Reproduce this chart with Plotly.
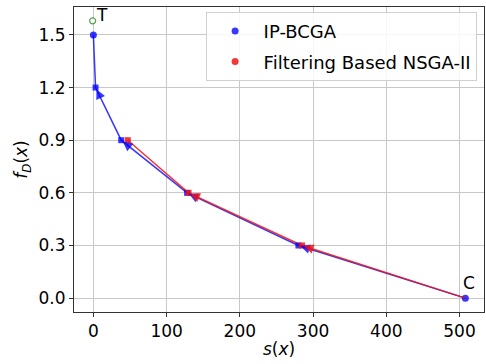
import plotly.graph_objects as go

# Data
blue_s = [0, 3, 38, 128, 280, 508]
blue_f = [1.5, 1.2, 0.9, 0.6, 0.3, 0.0]
red_s = [47, 130, 285, 508]
red_f = [0.9, 0.6, 0.3, 0.0]
T_point = (-1, 1.58)
C_point = (508, 0.0)

BLUE = "rgba(0,0,255,0.78)"
RED = "rgba(240,20,20,0.85)"
FONT = "DejaVu Sans"

fig = go.Figure()
fig.add_trace(go.Scatter(x=blue_s, y=blue_f, mode="lines", line=dict(color=BLUE, width=1.5),
                         showlegend=False, hoverinfo="skip"))
fig.add_trace(go.Scatter(x=[blue_s[0], blue_s[-1]], y=[blue_f[0], blue_f[-1]], mode="markers",
                         marker=dict(color=BLUE, size=7), name="IP-BCGA", legendgroup="a"))
fig.add_trace(go.Scatter(x=red_s, y=red_f, mode="lines", line=dict(color=RED, width=1.5),
                         showlegend=False, hoverinfo="skip"))
fig.add_trace(go.Scatter(x=[None], y=[None], mode="markers",
                         marker=dict(color=RED, size=7), name="Filtering Based NSGA-II", legendgroup="b"))
fig.add_trace(go.Scatter(x=[T_point[0]], y=[T_point[1]], mode="markers",
                         marker=dict(color="white", size=6, line=dict(color="#55a050", width=1.2)),
                         showlegend=False))

# plot geometry for arrow direction (pixels per unit)
W, H = 486, 364
ml, mr, mt, mb = 74, 2, 7, 52
xr = [-26.45, 533.45]
yr = [-0.079, 1.659]
px = (W - ml - mr) / (xr[1] - xr[0])
py = (H - mt - mb) / (yr[1] - yr[0])

annotations = []
def add_arrows(xs, ys, color):
    for i in range(1, len(xs) - 1):
        dx = (xs[i + 1] - xs[i]) * px
        dy = -(ys[i + 1] - ys[i]) * py
        L = (dx * dx + dy * dy) ** 0.5
        ux, uy = dx / L, dy / L
        annotations.append(dict(x=xs[i], y=ys[i], xref="x", yref="y",
                                ax=ux * 12, ay=uy * 12, showarrow=True,
                                arrowhead=2, arrowsize=1.2, arrowwidth=1.6,
                                arrowcolor=color, standoff=2, text=""))

add_arrows(blue_s, blue_f, BLUE)
add_arrows(red_s, red_f, RED)

# square-ish marks at intermediate points
fig.add_trace(go.Scatter(x=blue_s[1:-1], y=blue_f[1:-1], mode="markers",
                         marker=dict(color=BLUE, size=6, symbol="square"), showlegend=False))
fig.add_trace(go.Scatter(x=red_s[:-1], y=red_f[:-1], mode="markers",
                         marker=dict(color=RED, size=6, symbol="square"), showlegend=False))

annotations.append(dict(x=T_point[0], y=T_point[1], xref="x", yref="y", text="T",
                        showarrow=False, xanchor="left", yanchor="bottom",
                        xshift=1, yshift=-6, font=dict(family=FONT, size=17, color="black")))
annotations.append(dict(x=C_point[0], y=C_point[1], xref="x", yref="y", text="C",
                        showarrow=False, xanchor="left", yanchor="bottom",
                        xshift=-4, yshift=3, font=dict(family=FONT, size=17, color="black")))

axis_common = dict(showgrid=True, gridcolor="#c8c8c8", gridwidth=1, showline=True,
                   linecolor="#333333", linewidth=1, mirror=True, ticks="outside",
                   ticklen=4, tickcolor="#333333", zeroline=False,
                   tickfont=dict(family=FONT, size=17, color="black"))

fig.update_layout(
    width=W, height=H,
    margin=dict(l=ml, r=mr, t=mt, b=mb),
    paper_bgcolor="white", plot_bgcolor="white",
    font=dict(family=FONT, color="black"),
    xaxis=dict(range=xr, tickvals=[0, 100, 200, 300, 400, 500],
               title=dict(text="<i>s</i>(<i>x</i>)", font=dict(family=FONT, size=17), standoff=2),
               **axis_common),
    yaxis=dict(range=yr, tickvals=[0, 0.3, 0.6, 0.9, 1.2, 1.5], tickformat=".1f",
               title=dict(text="<i>f</i><sub><i>D</i></sub>(<i>x</i>)", font=dict(family=FONT, size=17), standoff=6),
               **axis_common),
    legend=dict(x=0.982, y=0.984, xanchor="right", yanchor="top",
                bgcolor="rgba(255,255,255,0.85)", bordercolor="#d0d0d0", borderwidth=1,
                font=dict(family=FONT, size=18), itemwidth=47, tracegroupgap=4),
    annotations=annotations,
)

fig.write_html("out.html")
